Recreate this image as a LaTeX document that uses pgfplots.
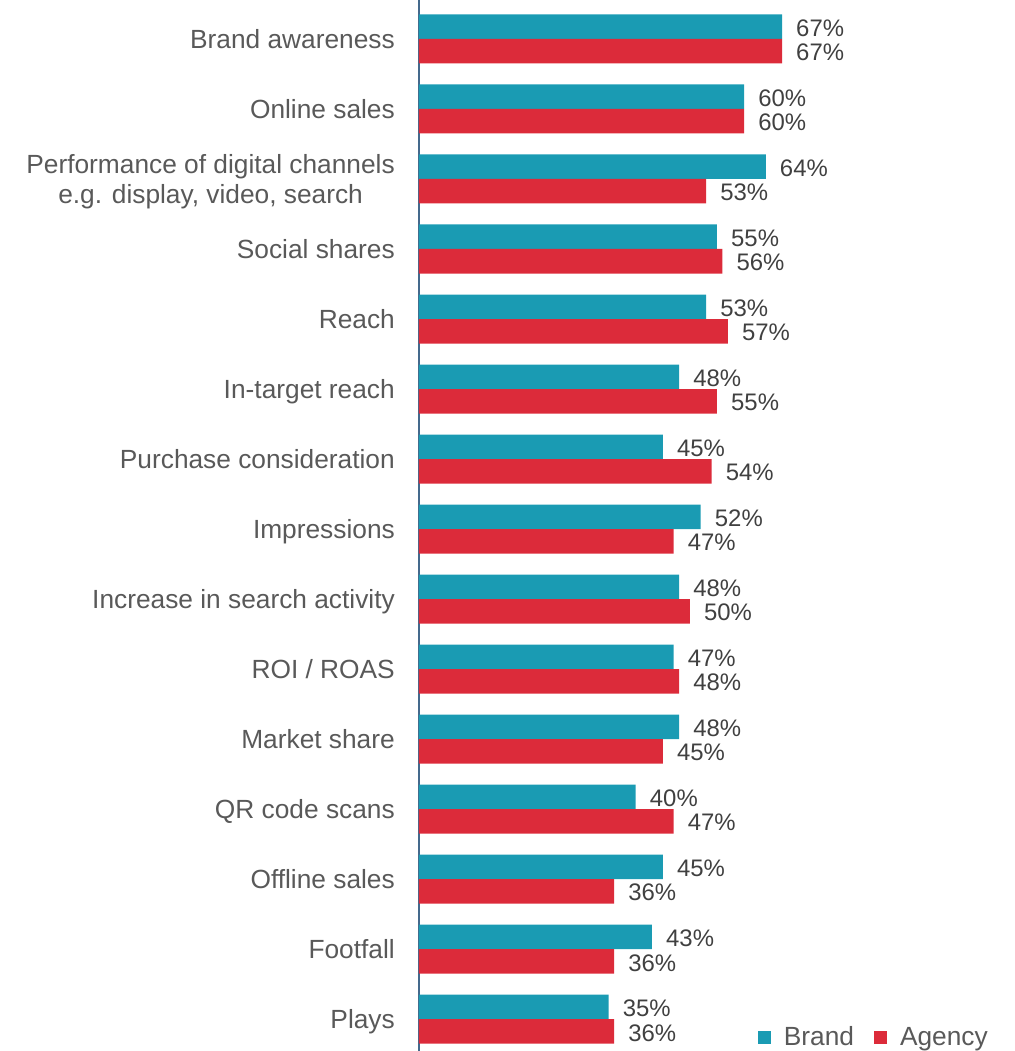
\documentclass[border=0pt]{standalone}
\usepackage{fontspec}
\setmainfont{Liberation Sans}
\usepackage{pgfplots}
\pgfplotsset{compat=1.18}
\definecolor{brand}{HTML}{1A9BB3}
\definecolor{agency}{HTML}{DC2B3A}
\definecolor{txt}{HTML}{595959}
\definecolor{val}{HTML}{404040}
\definecolor{axl}{HTML}{44698C}
\begin{document}
\begin{tikzpicture}
\begin{axis}[
  scale only axis, width=596bp, height=1051bp,
  xmin=0, xmax=110,
  ymin=-0.557, ymax=14.457, y dir=reverse,
  xbar, bar width=0.35,
  /pgf/number format/assume math mode=true,
  axis x line=none, axis y line=left,
  axis line style={-, draw=axl, line width=1.5bp},
  ytick={0,...,14},
  yticklabels={Brand awareness, Online sales, {Performance of digital channels\\e.g. display, video, search}, Social shares, Reach, In-target reach, Purchase consideration, Impressions, Increase in search activity, ROI / ROAS, Market share, QR code scans, Offline sales, Footfall, Plays},
  major tick length=0pt,
  yticklabel style={font=\fontsize{26.4}{30}\selectfont, text=txt, align=center, inner sep=0pt, xshift=-24bp, yshift=-2.5bp,
     execute at begin node={\rule[-5.4bp]{0pt}{24bp}}, execute at end node={\rule[-5.4bp]{0pt}{24bp}}},
  nodes near coords={\pgfmathprintnumber{\pgfplotspointmeta}\%},
  nodes near coords style={anchor=west, inner sep=0pt, xshift=14bp, yshift=-1.5bp, font=\fontsize{24}{28}\selectfont, text=val},
  legend columns=2,
  legend style={at={(0.958,0.0133)}, anchor=east, draw=none, fill=none, inner sep=0pt,
     font=\fontsize{26.4}{30}\selectfont, text=txt,
     /tikz/every even column/.append style={column sep=18bp}},
  legend cell align=left,
  legend image code/.code={\fill[#1] (0bp,-6.5bp) rectangle (13bp,6.5bp); \path (24bp,0bp);},
]
\addplot[fill=brand, draw=none, bar shift=-0.175] coordinates {
(67,0) (60,1) (64,2) (55,3) (53,4) (48,5) (45,6) (52,7) (48,8) (47,9) (48,10) (40,11) (45,12) (43,13) (35,14)};
\addlegendentry{Brand}
\addplot[fill=agency, draw=none, bar shift=0.175] coordinates {
(67,0) (60,1) (53,2) (56,3) (57,4) (55,5) (54,6) (47,7) (50,8) (48,9) (45,10) (47,11) (36,12) (36,13) (36,14)};
\addlegendentry{Agency}
\end{axis}
\pgfresetboundingbox
\path ([xshift=-419bp]current axis.south west) rectangle (current axis.north east);
\end{tikzpicture}
\end{document}
